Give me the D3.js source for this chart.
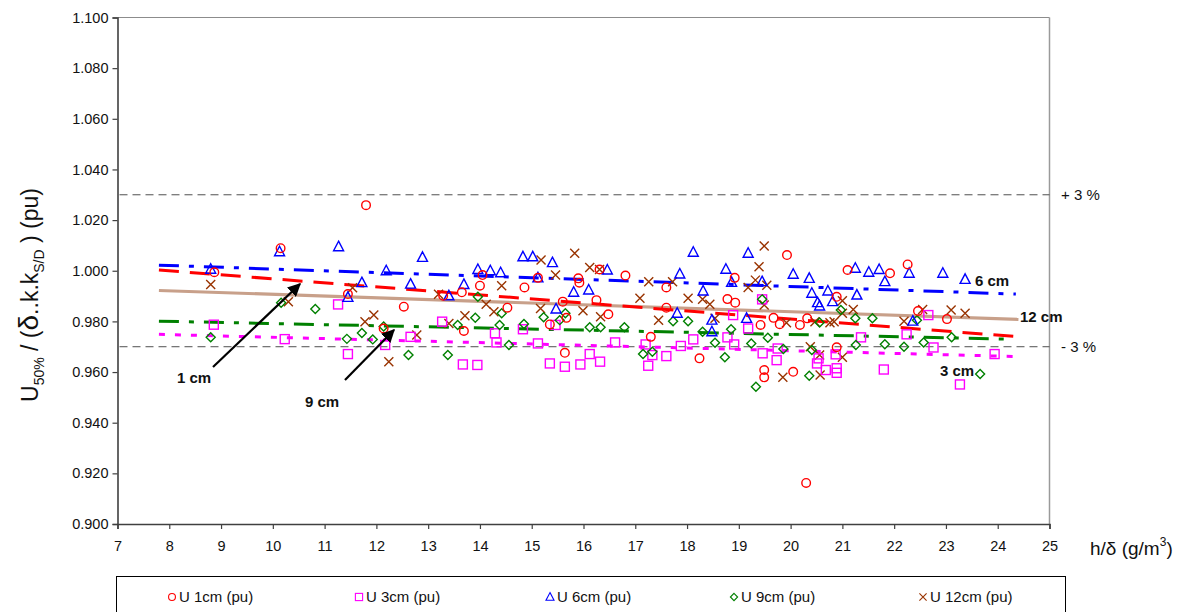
<!DOCTYPE html>
<html><head><meta charset="utf-8">
<script src="https://cdn.jsdelivr.net/npm/d3@7"></script>
<style>body{margin:0;background:#fff;} svg{display:block;font-family:Arial,"Liberation Sans",sans-serif;}</style>
</head><body>
<svg id="chart" width="1198" height="612"></svg>
<script>
const xTicks = d3.range(7, 26, 1);
const yTicks = [0.900,0.920,0.940,0.960,0.980,1.000,1.020,1.040,1.060,1.080,1.100];
const refLines = [{v:1.030,label:"+ 3 %"},{v:0.970,label:"- 3 %"}];

const u1 = [[8.87,0.9994],[10.15,1.0089],[11.45,0.9908],[11.80,1.0259],[12.14,0.9772],[12.53,0.9858],[13.29,0.9901],[13.65,0.9915],[13.69,0.9762],[14.00,0.9941],[14.05,0.9983],[14.53,0.9854],[14.86,0.9934],[15.12,0.9972],[15.35,0.9788],[15.60,0.9878],[15.64,0.9676],[15.67,0.9814],[15.90,0.9970],[15.92,0.9953],[16.25,0.9884],[16.31,1.0005],[16.48,0.9828],[16.81,0.9981],[17.30,0.9739],[17.60,0.9934],[17.60,0.9854],[18.24,0.9654],[18.78,0.9888],[18.92,0.9972],[18.93,0.9874],[19.42,0.9786],[19.49,0.9608],[19.49,0.9579],[19.67,0.9814],[19.79,0.9789],[19.93,1.0062],[20.05,0.9601],[20.18,0.9786],[20.30,0.9162],[20.32,0.9812],[20.89,0.9897],[20.89,0.9698],[21.10,1.0003],[21.92,0.9990],[22.26,1.0025],[22.46,0.9841],[23.02,0.9809]];
const u3 = [[8.86,0.9787],[10.23,0.9730],[11.26,0.9867],[11.45,0.9671],[12.17,0.9707],[12.66,0.9739],[13.27,0.9799],[13.67,0.9630],[13.95,0.9628],[14.29,0.9753],[14.32,0.9717],[14.83,0.9769],[15.12,0.9713],[15.35,0.9634],[15.46,0.9786],[15.64,0.9621],[15.94,0.9630],[16.12,0.9671],[16.32,0.9641],[16.61,0.9717],[17.20,0.9709],[17.25,0.9625],[17.33,0.9667],[17.60,0.9663],[17.88,0.9703],[18.12,0.9729],[18.78,0.9737],[18.89,0.9825],[18.91,0.9709],[19.18,0.9772],[19.45,0.9887],[19.46,0.9674],[19.73,0.9647],[19.75,0.9693],[20.51,0.9634],[20.54,0.9654],[20.68,0.9608],[20.87,0.9670],[20.89,0.9615],[20.89,0.9597],[21.36,0.9737],[21.80,0.9610],[22.24,0.9749],[22.66,0.9825],[22.76,0.9697],[23.27,0.9551],[23.94,0.9671]];
const u6 = [[8.80,1.0006],[10.13,1.0075],[11.27,1.0095],[11.45,0.9895],[11.72,0.9953],[12.19,1.0000],[12.66,0.9947],[12.89,1.0053],[13.40,0.9901],[13.69,0.9946],[13.96,1.0005],[14.20,1.0000],[14.40,0.9992],[14.83,1.0055],[15.02,1.0055],[15.12,0.9972],[15.40,1.0032],[15.47,0.9849],[15.81,0.9915],[16.10,0.9924],[16.46,1.0003],[17.81,0.9832],[17.86,0.9987],[18.12,1.0073],[18.31,0.9920],[18.48,0.9805],[18.48,0.9759],[18.75,1.0006],[18.86,0.9954],[19.15,0.9812],[19.18,1.0069],[19.45,0.9957],[20.05,0.9986],[20.36,0.9970],[20.41,0.9911],[20.52,0.9874],[20.56,0.9861],[20.72,0.9920],[20.81,0.9878],[21.25,1.0010],[21.28,0.9904],[21.51,0.9994],[21.71,1.0005],[21.82,0.9957],[22.29,0.9990],[22.36,0.9801],[22.94,0.9990],[23.37,0.9966]];
const u9 = [[8.80,0.9737],[10.16,0.9874],[10.82,0.9849],[11.43,0.9731],[11.72,0.9754],[11.93,0.9729],[12.14,0.9780],[12.62,0.9667],[13.38,0.9667],[13.57,0.9786],[13.91,0.9814],[13.96,0.9897],[14.38,0.9786],[14.42,0.9832],[14.56,0.9707],[14.85,0.9790],[15.23,0.9816],[15.54,0.9805],[15.65,0.9832],[16.12,0.9777],[16.33,0.9777],[16.79,0.9777],[17.15,0.9671],[17.33,0.9680],[17.73,0.9801],[18.02,0.9801],[18.30,0.9759],[18.54,0.9716],[18.73,0.9658],[18.85,0.9769],[19.24,0.9713],[19.33,0.9542],[19.45,0.9887],[19.56,0.9735],[19.86,0.9691],[20.36,0.9585],[20.41,0.9687],[20.56,0.9796],[20.97,0.9845],[21.25,0.9812],[21.26,0.9707],[21.58,0.9812],[21.82,0.9710],[22.19,0.9700],[22.44,0.9805],[22.57,0.9717],[23.11,0.9737],[23.66,0.9592]];
const u12 = [[8.80,0.9946],[10.30,0.9878],[11.54,0.9933],[11.78,0.9799],[11.95,0.9825],[12.24,0.9641],[12.78,0.9746],[13.20,0.9907],[13.40,0.9792],[13.71,0.9822],[14.12,0.9868],[14.27,0.9838],[14.42,0.9941],[15.17,0.9851],[15.18,1.0042],[15.46,0.9983],[15.83,1.0069],[15.99,0.9842],[16.12,1.0013],[16.31,1.0005],[16.33,0.9818],[17.09,0.9891],[17.26,0.9957],[17.45,0.9805],[17.72,0.9957],[18.02,0.9891],[18.30,0.9887],[18.44,0.9868],[18.54,0.9812],[19.18,0.9934],[19.32,0.9963],[19.39,1.0016],[19.49,1.0098],[19.49,0.9865],[19.54,0.9943],[19.85,0.9579],[19.92,0.9795],[20.38,0.9700],[20.47,0.9799],[20.56,0.9667],[20.57,0.9588],[20.76,0.9795],[20.84,0.9799],[21.00,0.9882],[21.00,0.9832],[21.00,0.9658],[21.21,0.9847],[22.19,0.9801],[22.55,0.9847],[23.10,0.9845],[23.37,0.9832]];

// trend line endpoints: [x, y]
const trend1 = [[7.8,1.0003],[24.3,0.9741]];
const trend3 = [[7.8,0.9749],[24.4,0.9661]];
const trend6 = [[7.8,1.0022],[24.35,0.9908]];
const trend9 = [[7.8,0.9801],[24.25,0.9730]];
const trend12 = [[7.8,0.9922],[24.4,0.9808]];

const legendLabels = ["U 1cm (pu)","U 3cm (pu)","U 6cm (pu)","U 9cm (pu)","U 12cm (pu)"];

const svg = d3.select("#chart");
const L=117.5, R=1049.5, T=17.5, B=524;
const x = d3.scaleLinear().domain([7,25]).range([L,R]);
const y = d3.scaleLinear().domain([0.9,1.1]).range([B,T]);

// plot frame top/right
svg.append("line").attr("x1",L).attr("x2",R).attr("y1",T).attr("y2",T).attr("stroke","#8c8c8c").attr("stroke-width",1.2);
svg.append("line").attr("x1",R).attr("x2",R).attr("y1",T).attr("y2",B).attr("stroke","#9a9a9a").attr("stroke-width",1.5);

// reference lines
refLines.forEach(r=>{
  svg.append("line").attr("x1",L+2).attr("x2",R).attr("y1",y(r.v)).attr("y2",y(r.v))
    .attr("stroke","#505050").attr("stroke-width",1).attr("stroke-dasharray","8,5");
  svg.append("text").attr("x",1061).attr("y",y(r.v)).attr("dy","0.35em").attr("font-size",15).attr("fill","#111").text(r.label);
});

// axes
const yAx = svg.append("g").attr("transform",`translate(${L},0)`)
  .call(d3.axisLeft(y).tickValues(yTicks).tickFormat(d3.format(".3f")).tickSize(5).tickPadding(4));
const xAx = svg.append("g").attr("transform",`translate(0,${B})`)
  .call(d3.axisBottom(x).tickValues(xTicks).tickFormat(d3.format("d")).tickSize(5).tickPadding(12));
[yAx,xAx].forEach(g=>{
  g.select(".domain").attr("stroke","#404040").attr("stroke-width",1.6);
  g.selectAll(".tick line").attr("stroke","#404040").attr("stroke-width",1.2);
  g.selectAll("text").attr("font-size",14.5).attr("fill","#111").attr("font-family","Arial, 'Liberation Sans', sans-serif");
});

// trend lines
const line = d3.line().x(d=>x(d[0])).y(d=>y(d[1]));
const trends = [
  {d:trend12, c:"#c8a08a", w:3.2, dash:null},
  {d:trend3, c:"#ff00ff", w:3, dash:"6,10"},
  {d:trend9, c:"#008000", w:3, dash:"20,10,5,10"},
  {d:trend1, c:"#ff0000", w:3, dash:"20,11"},
  {d:trend6, c:"#0000ff", w:3, dash:"20,10,5,10"}
];
trends.forEach(t=>{
  const p = svg.append("path").datum(t.d).attr("d",line).attr("fill","none").attr("stroke",t.c).attr("stroke-width",t.w);
  if(t.dash) p.attr("stroke-dasharray",t.dash);
});

// markers
const markers = {
  circle: (g,c)=>g.append("circle").attr("r",4.3).attr("fill","none").attr("stroke",c).attr("stroke-width",1.4),
  square: (g,c)=>g.append("rect").attr("x",-4.5).attr("y",-4.5).attr("width",9).attr("height",9).attr("fill","none").attr("stroke",c).attr("stroke-width",1.4),
  triangle: (g,c)=>g.append("path").attr("d","M0,-5.5L5,4L-5,4Z").attr("fill","none").attr("stroke",c).attr("stroke-width",1.4),
  diamond: (g,c)=>g.append("path").attr("d","M0,-4.5L4.5,0L0,4.5L-4.5,0Z").attr("fill","none").attr("stroke",c).attr("stroke-width",1.4),
  cross: (g,c)=>g.append("path").attr("d","M-4.5,-4.5L4.5,4.5M4.5,-4.5L-4.5,4.5").attr("fill","none").attr("stroke",c).attr("stroke-width",1.4)
};
const series = [
  {d:u1, m:"circle", c:"#ff0000"},
  {d:u3, m:"square", c:"#ff00ff"},
  {d:u6, m:"triangle", c:"#0000ff"},
  {d:u9, m:"diamond", c:"#008000"},
  {d:u12, m:"cross", c:"#993300"}
];
[4,1,3,2,0].forEach(i=>{
  const s = series[i];
  svg.append("g").selectAll("g").data(s.d).join("g")
    .attr("transform",d=>`translate(${x(d[0])},${y(d[1])})`)
    .each(function(){ markers[s.m](d3.select(this), s.c); });
});

// arrows & annotations
const defs = svg.append("defs");
defs.append("marker").attr("id","ah").attr("viewBox","0 0 10 10").attr("refX",9).attr("refY",5)
  .attr("markerWidth",6).attr("markerHeight",6).attr("markerUnits","strokeWidth").attr("orient","auto")
  .append("path").attr("d","M0,0L10,5L0,10Z").attr("fill","#000");
svg.append("line").attr("x1",213).attr("y1",367).attr("x2",300).attr("y2",284).attr("stroke","#000").attr("stroke-width",2.2).attr("marker-end","url(#ah)");
svg.append("line").attr("x1",345).attr("y1",380).attr("x2",394).attr("y2",330).attr("stroke","#000").attr("stroke-width",2.2).attr("marker-end","url(#ah)");
const ann = [{t:"1 cm",x:177,y:378},{t:"9 cm",x:305,y:402},{t:"6 cm",x:975,y:281},{t:"12 cm",x:1020,y:317},{t:"3 cm",x:940,y:371}];
ann.forEach(a=>svg.append("text").attr("x",a.x).attr("y",a.y).attr("dy","0.35em").attr("font-size",15).attr("font-weight","bold").attr("fill","#111").text(a.t));

// axis titles
const yt = svg.append("text").attr("transform","translate(38,295) rotate(-90)").attr("text-anchor","middle").attr("font-size",23).attr("fill","#111");
yt.append("tspan").text("U");
yt.append("tspan").attr("font-size",14).attr("dy",6).text("50%");
yt.append("tspan").attr("dy",-6).text(" / (");
yt.append("tspan").attr("font-size",28).text("δ");
yt.append("tspan").text("..k.k");
yt.append("tspan").attr("font-size",14).attr("dy",6).text("S/D");
yt.append("tspan").attr("dy",-6).text(" ) (pu)");

const xt = svg.append("text").attr("x",1090).attr("y",555).attr("font-size",19).attr("fill","#111");
xt.append("tspan").text("h/δ (g/m");
xt.append("tspan").attr("font-size",12).attr("dy",-9).text("3");
xt.append("tspan").attr("dy",9).text(")");

// legend
svg.append("rect").attr("x",116.5).attr("y",576.5).attr("width",949).attr("height",50).attr("fill","none").attr("stroke","#000").attr("stroke-width",1);
const legX = [172,359,550,734,923];
series.forEach((s,i)=>{
  const g = svg.append("g").attr("transform",`translate(${legX[i]},597)`);
  const mk = markers[s.m](g, s.c);
  mk.attr("transform","scale(0.8)");
  svg.append("text").attr("x",legX[i]+7).attr("y",597).attr("dy","0.35em").attr("font-size",15).attr("fill","#111").text(legendLabels[i]);
});
</script>
</body></html>
